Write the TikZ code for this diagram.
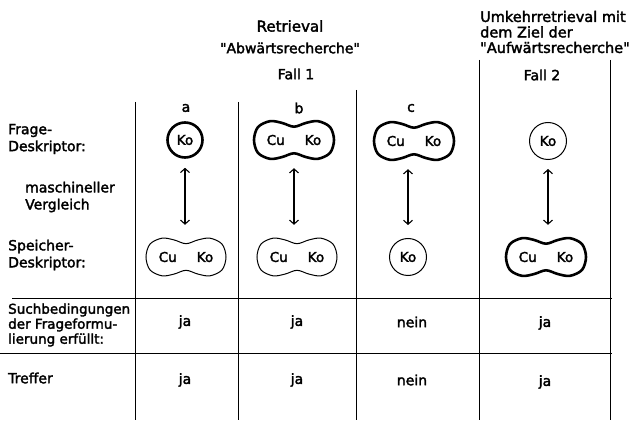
\documentclass[tikz,border=0pt]{standalone}
\usepackage{fontspec}
\setmainfont{DejaVu Sans}[Ligatures=TeXOff,RawFeature={embolden=2.2}]
\usetikzlibrary{arrows.meta}
\newcommand\qq{\symbol{34}}
\newcommand\myblob[2]{% #1 options, #2 center node
  \draw[#1,shift={(#2.center)},xscale=40,yscale=19]
    plot[smooth cycle,tension=0.55] coordinates {(-1,0) (-0.9,-0.68) (-0.6,-0.99) (-0.3,-0.9) (0,-0.7) (0.3,-0.9) (0.6,-0.99) (0.9,-0.68) (1,0) (0.9,0.68) (0.6,0.99) (0.3,0.9) (0,0.7) (-0.3,0.9) (-0.6,0.99) (-0.9,0.68)};}
\begin{document}
\begin{tikzpicture}[x=1pt,y=-1pt,
  font=\fontsize{14}{17}\selectfont,
  lbl/.style={anchor=west,align=left,inner sep=0pt},
  txt/.style={inner sep=0pt},
  rule/.style={line width=0.9pt},
  thickc/.style={circle,draw,line width=2.6pt,minimum size=35pt,inner sep=0pt,font=\fontsize{13.5}{14}\selectfont},
  thinc/.style={circle,draw,line width=1pt,minimum size=37pt,inner sep=0pt,font=\fontsize{13.5}{14}\selectfont},
  blobn/.style={minimum width=80pt,minimum height=38pt,inner sep=0pt,font=\fontsize{13.5}{14}\selectfont},
  thickb/.style={line width=2.6pt},
  thinb/.style={line width=1pt},
  cmp/.style={{Straight Barb[length=4pt,width=9pt]}-{Straight Barb[length=4pt,width=9pt]},line width=1.1pt,shorten <=9pt,shorten >=13pt}]
\useasboundingbox (0,0) rectangle (633,425);

% headers
\node[txt,font=\fontsize{15}{17}\selectfont] (h1) at (290,26) {Retrieval};
\node[txt] (h2) at (290,48) {\qq Abwärtsrecherche\qq};
\node[txt] (f1) at (296,74) {Fall 1};
\node[lbl,font=\fontsize{14.5}{15.5}\selectfont] (h3) at (480,32) {Umkehrretrieval mit\\dem Ziel der\\\qq Aufwärtsrecherche\qq};
\node[txt] (f2) at (542,75) {Fall 2};
\node[txt] (ca) at (186,108) {a};
\node[txt] (cb) at (299,108) {b};
\node[txt] (cc) at (411,108) {c};

% left labels
\node[lbl,font=\fontsize{14}{17}\selectfont] (l1) at (8,139) {Frage-\\Deskriptor:};
\node[lbl,font=\fontsize{14}{17}\selectfont] (l2) at (25,197) {maschineller\\Vergleich};
\node[lbl,font=\fontsize{14}{17}\selectfont] (l3) at (8,255) {Speicher-\\Deskriptor:};
\node[lbl,font=\fontsize{13.5}{15}\selectfont] (l4) at (8,325) {Suchbedingungen\\der Frageformu-\\lierung erfüllt:};
\node[lbl] (l5) at (8,378) {Treffer};

% rules
\draw[rule] (135,102) -- (135,420);
\draw[rule] (238,102) -- (238,420);
\draw[rule] (356,90) -- (356,420);
\draw[rule] (479,60) -- (479,420);
\draw[rule] (610,60) -- (610,420);
\draw[rule] (12,298) -- (612,298);
\draw[rule] (0,353) -- (612,353);

% upper descriptors
\node[thickc] (fa) at (185,140) {Ko};
\node[blobn] (fb) at (294,140) {Cu\hspace{20pt}Ko};
\myblob{thickb}{fb}
\node[blobn] (fc) at (414,141) {Cu\hspace{20pt}Ko};
\myblob{thickb}{fc}
\node[thinc] (fd) at (548,141) {Ko};

% lower descriptors
\node[blobn] (sa) at (186,257) {Cu\hspace{20pt}Ko};
\myblob{thinb}{sa}
\node[blobn] (sb) at (297,257) {Cu\hspace{20pt}Ko};
\myblob{thinb}{sb}
\node[thinc] (sc) at (408,257) {Ko};
\node[blobn] (sd) at (546,257) {Cu\hspace{20pt}Ko};
\myblob{thickb}{sd}

% comparison arrows
\draw[cmp] (fa.south) -- (fa.south |- sa.north);
\draw[cmp] (fb.south) -- (fb.south |- sb.north);
\draw[cmp] (fc.south -| sc.north) -- (sc.north);
\draw[cmp] (fd.south) -- (fd.south |- sd.north);

% result rows
\node[txt] (ra) at (185,322) {ja};
\node[txt] (rb) at (297,322) {ja};
\node[txt] (rc) at (412,322) {nein};
\node[txt] (rd) at (545,323) {ja};
\node[txt] (ta) at (185,380) {ja};
\node[txt] (tb) at (297,380) {ja};
\node[txt] (tc) at (412,380) {nein};
\node[txt] (td) at (545,382) {ja};
\end{tikzpicture}
\end{document}
